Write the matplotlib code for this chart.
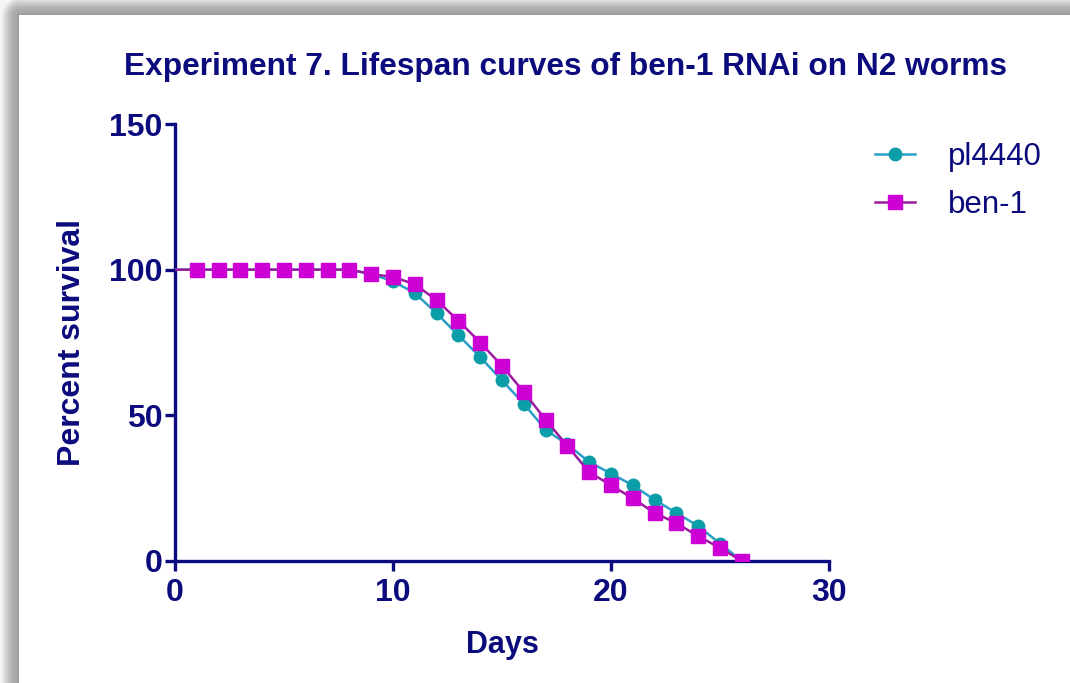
import numpy as np
import matplotlib
matplotlib.use("Agg")
import matplotlib.pyplot as plt

# ---- data ----
days = list(range(0, 27))
pl4440 = [100, 100, 100, 100, 100, 100, 100, 100, 100, 98.5, 96, 92, 85, 77.5, 70, 62, 54,
          45, 40, 34, 30, 26, 21, 16.5, 12, 6, 0]
ben1 = [100, 100, 100, 100, 100, 100, 100, 100, 100, 98.5, 97.5, 95, 89.5, 82.5, 75, 67, 58,
        48.5, 39.5, 30.5, 26, 21.5, 16.5, 13, 8.5, 4.5, 0]
series_names = ["pl4440", "ben-1"]
title = "Experiment 7. Lifespan curves of ben-1 RNAi on N2 worms"
xticks = [0, 10, 20, 30]
yticks = [0, 50, 100, 150]

NAVY = "#0b0b7d"
plt.rcParams['font.family'] = ['Liberation Sans', 'DejaVu Sans']

W, H = 1070, 683
fig = plt.figure(figsize=(W / 100, H / 100), dpi=100)

# background panel with shadow
bg = fig.add_axes([0, 0, 1, 1], zorder=-10)
bg.axis('off')
yy, xx = np.mgrid[0:H, 0:W]
dx = np.clip(19 - xx, 0, None)
dy = np.clip(15 - yy, 0, None)
d = np.sqrt(dx ** 2 + dy ** 2)
img = np.where(d > 0, 0.66 + 0.30 * np.clip((d - 4) / 14, 0, 1) ** 1.5, 1.0)
img = np.where((d > 0) & (d < 3), 0.62, img)
bg.imshow(img, cmap='gray', vmin=0, vmax=1, extent=[0, W, H, 0], aspect='auto',
          interpolation='bilinear')
bg.set_xlim(0, W)
bg.set_ylim(H, 0)

ax = fig.add_axes([175 / W, 1 - 561 / H, (829 - 175) / W, (561 - 124) / H])
ax.set_facecolor('none')

ax.plot(days, pl4440, color="#2a9ec6", lw=1.8, marker='o', markersize=9,
        markerfacecolor="#0b9ea8", markeredgecolor="#0b9ea8", markevery=list(range(1, 27)),
        label=series_names[0], zorder=3)
ax.plot(days, ben1, color="#9a1c9c", lw=1.8, marker='s', markersize=9.5,
        markerfacecolor="#cc00d4", markeredgecolor="#cc00d4", markevery=list(range(1, 27)),
        label=series_names[1], zorder=4)

ax.set_xlim(0, 30)
ax.set_ylim(0, 150)
ax.set_xticks(xticks)
ax.set_yticks(yticks)
for s in ['top', 'right']:
    ax.spines[s].set_visible(False)
for s in ['left', 'bottom']:
    ax.spines[s].set_color(NAVY)
    ax.spines[s].set_linewidth(2.4)
ax.tick_params(axis='both', colors=NAVY, width=2.4, length=7, labelsize=23)
for lab in ax.get_xticklabels() + ax.get_yticklabels():
    lab.set_fontweight('bold')
    lab.set_color(NAVY)
ax.tick_params(axis='x', pad=5)
ax.tick_params(axis='y', pad=2)

ax.set_xlabel("Days", fontsize=22, fontweight='bold', color=NAVY, labelpad=16)
ax.set_ylabel("Percent survival", fontsize=23, fontweight='bold', color=NAVY, labelpad=16)

fig.text(565 / W, 1 - 67 / H, title, ha='center', va='center', fontsize=22.8,
         fontweight='bold', color=NAVY)

leg = ax.legend(loc='upper left', bbox_to_anchor=(862 / W, 1 - 129 / H),
                bbox_transform=fig.transFigure, frameon=False, fontsize=22.5,
                handlelength=1.3, handletextpad=1.05, labelspacing=0.59,
                borderaxespad=0)
for t in leg.get_texts():
    t.set_color(NAVY)

fig.savefig("out.png", dpi=100)
